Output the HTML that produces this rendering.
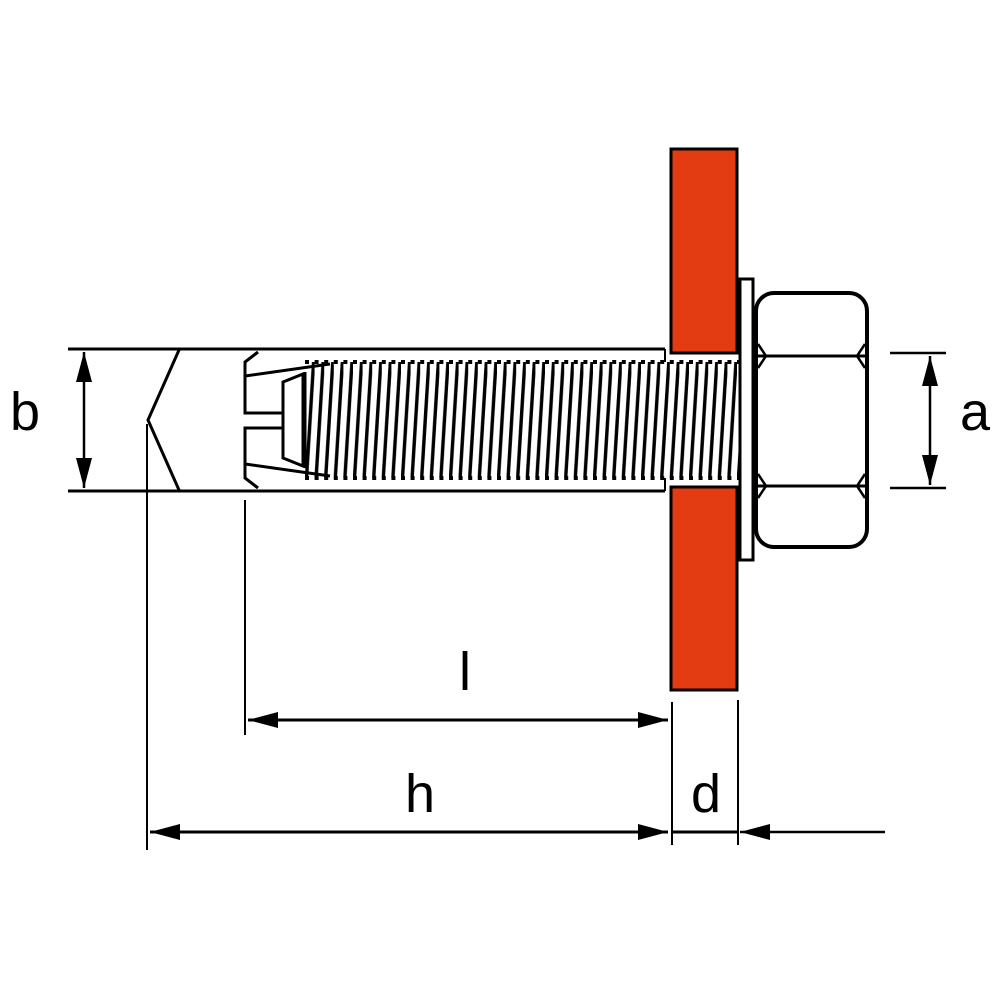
<!DOCTYPE html>
<html><head><meta charset="utf-8"><style>body{margin:0;background:#fff}svg{display:block}</style></head><body>
<svg width="1000" height="1000" viewBox="0 0 1000 1000" xmlns="http://www.w3.org/2000/svg">
<defs>
<pattern id="thr" x="305" y="0" width="9.6" height="1000" patternUnits="userSpaceOnUse">
<line x1="1.5" y1="478" x2="8.6" y2="362" stroke="#000" stroke-width="3.4"/>
</pattern>
<marker id="ar" viewBox="0 0 30 16" refX="30" refY="8" markerWidth="30" markerHeight="16" markerUnits="userSpaceOnUse" orient="auto-start-reverse"><path d="M0,0 L30,8 L0,16 Z" fill="#000"/></marker>
</defs>
<g stroke="#000" fill="none">
<rect x="671" y="149" width="66" height="204" fill="#e33b12" stroke-width="3"/>
<rect x="671" y="487" width="66" height="203" fill="#e33b12" stroke-width="3"/>
<line x1="68" y1="349" x2="665" y2="349" stroke-width="3"/>
<line x1="68" y1="491" x2="665" y2="491" stroke-width="3"/>
<polyline points="179,350 148,420 179,490" stroke-width="3"/>
<line x1="665" y1="349" x2="665" y2="362" stroke-width="2"/>
<line x1="665" y1="478" x2="665" y2="491" stroke-width="2"/>
<polyline points="258,352 245,362 245,413 283,413" stroke-width="3"/>
<polyline points="258,488 245,478 245,428 283,428" stroke-width="3"/>
<line x1="245" y1="376" x2="330" y2="364" stroke-width="3"/>
<line x1="245" y1="464" x2="330" y2="476" stroke-width="3"/>
<polygon points="283,382 303,374 303,466 283,458" stroke-width="3"/>
<rect x="305" y="362" width="437" height="116" fill="url(#thr)" stroke="none"/>
<line x1="305" y1="362" x2="742" y2="362" stroke-width="4" stroke-dasharray="4 5.6"/>
<line x1="305" y1="478" x2="742" y2="478" stroke-width="4" stroke-dasharray="4 5.6"/>
<line x1="305" y1="372" x2="305" y2="468" stroke-width="3"/>
<rect x="740" y="279" width="13" height="281" fill="#fff" stroke-width="3"/>
<rect x="756" y="293" width="111" height="254" rx="18" fill="#fff" stroke-width="4"/>
<path d="M757,356 L866,356 M757,486 L866,486" stroke-width="3"/>
<path d="M758,344 L766,356 L758,368 M865,344 L857,356 L865,368 M758,474 L766,486 L758,498 M865,474 L857,486 L865,498" stroke-width="2.5"/>
<line x1="890" y1="353" x2="946" y2="353" stroke-width="2.5"/>
<line x1="890" y1="488" x2="946" y2="488" stroke-width="2.5"/>
<line x1="930" y1="356" x2="930" y2="485" stroke-width="2.5" marker-start="url(#ar)" marker-end="url(#ar)"/>
<line x1="84" y1="352" x2="84" y2="488" stroke-width="2.5" marker-start="url(#ar)" marker-end="url(#ar)"/>
<line x1="245" y1="500" x2="245" y2="735" stroke-width="2"/>
<line x1="248" y1="720" x2="668" y2="720" stroke-width="3" marker-start="url(#ar)" marker-end="url(#ar)"/>
<line x1="147" y1="424" x2="147" y2="850" stroke-width="2"/>
<line x1="150" y1="832" x2="668" y2="832" stroke-width="3" marker-start="url(#ar)" marker-end="url(#ar)"/>
<line x1="672" y1="702" x2="672" y2="845" stroke-width="2"/>
<line x1="738" y1="700" x2="738" y2="845" stroke-width="2"/>
<line x1="672" y1="832" x2="738" y2="832" stroke-width="3"/>
<line x1="885" y1="832" x2="740" y2="832" stroke-width="2.5" marker-end="url(#ar)"/>
</g>
<g font-family="Liberation Sans, sans-serif" font-size="54" fill="#000" text-anchor="middle">
<text x="465" y="690">l</text>
<text x="420" y="812">h</text>
<text x="706" y="812">d</text>
<text x="25" y="430">b</text>
<text x="975" y="430">a</text>
</g>
</svg>
</body></html>
